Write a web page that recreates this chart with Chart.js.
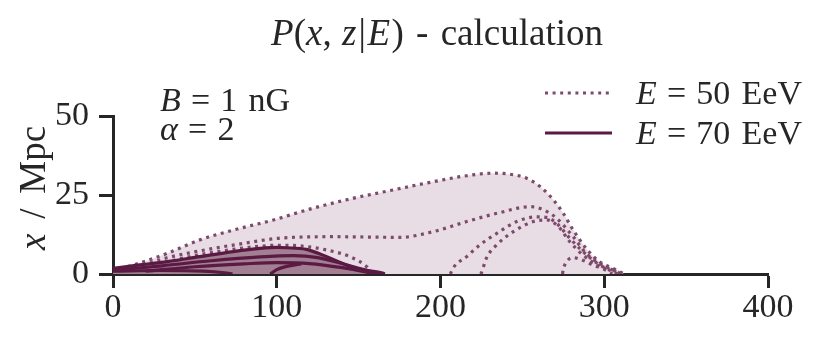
<!DOCTYPE html>
<html>
<head>
<meta charset="utf-8">
<script src="https://cdn.jsdelivr.net/npm/chart.js@4.4.1/dist/chart.umd.min.js"></script>
<style>
html,body{margin:0;padding:0;background:#fff;}
#c{display:block;}
</style>
</head>
<body>
<canvas id="c" width="830" height="342"></canvas>
<script>
// Tick values
const xTicks = [0, 100, 200, 300, 400];
const yTicks = [0, 25, 50];

// E = 50 EeV contours, [z (Mpc), x (Mpc)]
const e50Outer = [[0,1.2],[12,2.8],[33,6.5],[53,10.8],[73.5,13.9],[98,17.1],[122,20.8],[147,24.0],[171,26.6],[195.6,29.2],[216,31.1],[232,31.9],[242,31.6],[252.6,30.3],[261,27.6],[269,23.4],[275,19.2],[281,13.9],[289,8.1],[297,3.9],[305.5,1.8],[310.6,0.4],[312,0]];
const e50Level2 = [[0,1.0],[15,2.3],[32,5.0],[56,7.6],[80,9.7],[101,11.3],[135,11.8],[175,11.6],[195.6,13.4],[216,16.6],[236,19.4],[254.7,21.3],[263,20.3],[271,17.6],[281,11.8],[289,6.5],[299,2.8],[307.5,0.7],[310,0]];
const e50Level3 = [[0,0.8],[20,2.2],[44,5.2],[68,7.4],[90,8.8],[100,9.1],[114,8.9],[130.5,7.6],[144.7,5.5],[155,2.3],[158,0.5],[159,0]];
const e50LevelA = [[206,0],[208,2.1],[216,5.5],[224,9.2],[236,13.4],[246.5,16.6],[258.7,18.1],[264.8,17.9],[271,16],[279,11.3],[287,7.1],[297.4,2.8],[305.5,0.7],[308,0]];
const e50LevelB = [[224.5,0],[225,0.4],[228,5],[234.3,9.2],[244.5,13.4],[256.7,16.6],[264.8,17.1],[272,15],[279,10.2],[287,6],[297.4,2.3],[303.5,0.4],[305,0]];
const e50LevelC = [[274.5,0],[275,1.5],[277,3.9],[281,5.2],[285,4.7],[289,3.9],[294,2.6],[300.5,1.8],[307.5,0.9],[310,0]];

// E = 70 EeV contours, [z (Mpc), x (Mpc)]
const e70Outer = [[0,1.8],[15,2.8],[33,3.9],[53,5.5],[73.5,7.1],[90,8.1],[100,8.4],[106,8.3],[118,7.8],[130.5,5.5],[142.7,2.8],[155,1.1],[164,0.4],[166,0]];
const e70Level2 = [[0,1.2],[30,2.6],[60,4.2],[90,5.4],[110,5.8],[125,5.2],[140,3.3],[150,1.8],[160,0.5],[163,0]];
const e70Level3 = [[20,0.9],[50,2.3],[80,3.2],[100,3.6],[120,3.3],[140,2.0],[155,0.6],[160,0]];
const e70Level4 = [[0,0.9],[30,1.1],[55,0.9],[68,0.4],[73,0]];
const e70Level5 = [[96,0],[100,1.4],[106,2.4],[115,3.2]];

const COL_DOT = '#7d4a6c';
const COL_SOLID = '#5a1a43';
const FILL_50 = '#e8dde4';
const FILL_70 = '#a27f93';
const AXIS = '#262626';
const SERIF = "'Liberation Serif', 'DejaVu Serif', serif";

const pts = a => a.map(p => ({x: p[0], y: p[1]}));

function dotted(arr, order) {
  return {data: pts(arr), borderColor: COL_DOT, borderWidth: 3.2, borderDash: [3, 4.6], borderCapStyle: 'butt', fill: false, pointRadius: 0, cubicInterpolationMode: 'monotone', order: order};
}
function solid(arr, order) {
  return {data: pts(arr), borderColor: COL_SOLID, borderWidth: 3.2, fill: false, pointRadius: 0, cubicInterpolationMode: 'monotone', order: order};
}

const datasets = [
  Object.assign(dotted(e50Outer, 20), {fill: 'origin', backgroundColor: FILL_50}),
  dotted(e50Level2, 19),
  dotted(e50Level3, 18),
  dotted(e50LevelA, 17),
  dotted(e50LevelB, 16),
  dotted(e50LevelC, 15),
  Object.assign(solid(e70Outer, 10), {fill: 'origin', backgroundColor: FILL_70}),
  solid(e70Level2, 9),
  solid(e70Level3, 8),
  solid(e70Level4, 7),
  solid(e70Level5, 6)
];

// segments: {t: text, i: italic} or {g: gap in em}
function drawSegs(ctx, segs, size, x, y, align) {
  const wOf = s => { if (s.g) return s.g * size; ctx.font = (s.i ? 'italic ' : '') + size + 'px ' + SERIF; return ctx.measureText(s.t).width; };
  let w = 0;
  segs.forEach(s => { w += wOf(s); });
  let cx = align === 'center' ? x - w / 2 : x;
  ctx.textAlign = 'left';
  ctx.textBaseline = 'alphabetic';
  segs.forEach(s => {
    const sw = wOf(s);
    if (!s.g) ctx.fillText(s.t, cx, y);
    cx += sw;
  });
}

const textPlugin = {
  id: 'texts',
  afterDraw(chart) {
    const ctx = chart.ctx;
    ctx.save();
    ctx.fillStyle = AXIS;
    // title
    drawSegs(ctx, [{t:'P',i:1},{t:'('},{t:'x',i:1},{t:','},{g:0.28},{t:'z',i:1},{g:0.06},{t:'|'},{g:0.04},{t:'E',i:1},{g:0.04},{t:')'},{g:0.33},{t:'-'},{g:0.33},{t:'calculation'}], 37, 437, 45, 'center');
    // annotation
    drawSegs(ctx, [{t:'B',i:1},{g:0.3},{t:'='},{g:0.3},{t:'1'},{g:0.33},{t:'nG'}], 34, 160, 111, 'left');
    drawSegs(ctx, [{t:'α',i:1},{g:0.3},{t:'='},{g:0.3},{t:'2'}], 34, 160, 140, 'left');
    // legend
    ctx.lineWidth = 3.2;
    ctx.strokeStyle = COL_DOT;
    ctx.setLineDash([3, 4.6]);
    ctx.beginPath(); ctx.moveTo(545, 93); ctx.lineTo(612, 93); ctx.stroke();
    ctx.setLineDash([]);
    ctx.strokeStyle = COL_SOLID;
    ctx.beginPath(); ctx.moveTo(545, 133); ctx.lineTo(612, 133); ctx.stroke();
    drawSegs(ctx, [{t:'E',i:1},{g:0.3},{t:'='},{g:0.3},{t:'50'},{g:0.33},{t:'EeV'}], 34, 636, 104, 'left');
    drawSegs(ctx, [{t:'E',i:1},{g:0.3},{t:'='},{g:0.3},{t:'70'},{g:0.33},{t:'EeV'}], 34, 636, 144, 'left');
    // y axis title
    ctx.translate(45, 188);
    ctx.rotate(-Math.PI / 2);
    drawSegs(ctx, [{t:'x',i:1},{g:0.4},{t:'/'},{g:0.4},{t:'Mpc'}], 37, 0, 0, 'center');
    ctx.restore();
  }
};

new Chart(document.getElementById('c'), {
  type: 'line',
  data: {datasets: datasets},
  options: {
    responsive: false,
    animation: false,
    devicePixelRatio: 1,
    layout: {padding: {top: 116, right: 62, left: 0, bottom: 0}},
    plugins: {legend: {display: false}, tooltip: {enabled: false}, title: {display: false}},
    scales: {
      x: {
        type: 'linear', min: 0, max: 400, z: 1,
        afterBuildTicks: s => { s.ticks = xTicks.map(v => ({value: v})); },
        afterFit: s => { s.height = 68; },
        ticks: {font: {family: SERIF, size: 34}, color: AXIS, padding: 0, maxRotation: 0},
        grid: {drawOnChartArea: false, drawTicks: true, tickLength: 14, tickWidth: 3, tickColor: AXIS},
        border: {display: true, width: 3, color: AXIS}
      },
      y: {
        type: 'linear', min: 0, max: 50, z: 1,
        afterBuildTicks: s => { s.ticks = yTicks.map(v => ({value: v})); },
        afterFit: s => { s.width = 113; },
        ticks: {font: {family: SERIF, size: 34}, color: AXIS, padding: 10},
        grid: {drawOnChartArea: false, drawTicks: true, tickLength: 14, tickWidth: 3, tickColor: AXIS},
        border: {display: true, width: 3, color: AXIS}
      }
    }
  },
  plugins: [textPlugin]
});
</script>
</body>
</html>
